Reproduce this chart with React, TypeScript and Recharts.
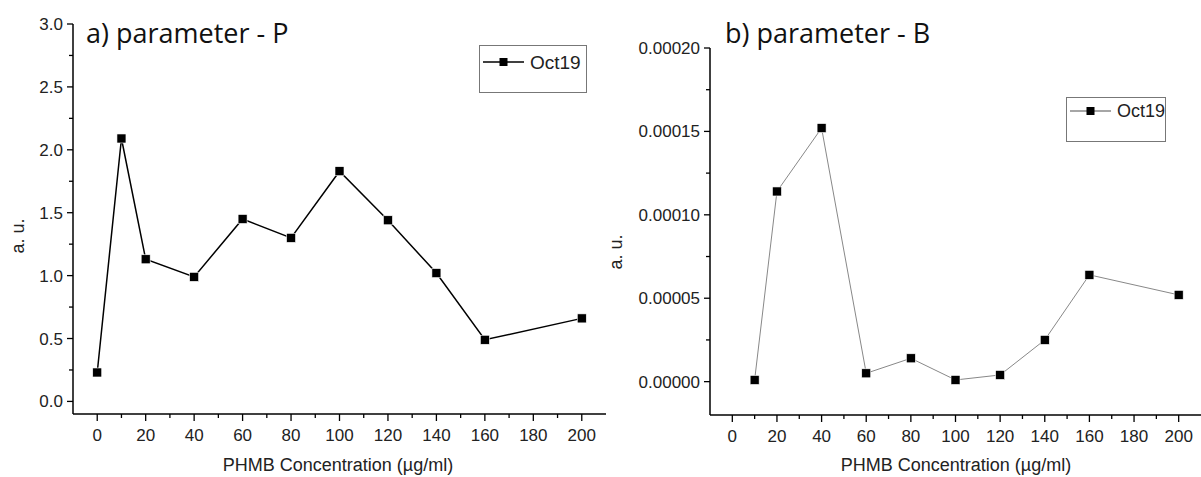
import React from 'react';
import { LineChart, Line, XAxis, YAxis, Legend } from 'recharts';

const concP = [0, 10, 20, 40, 60, 80, 100, 120, 140, 160, 200];
const valuesP = [0.23, 2.09, 1.13, 0.99, 1.45, 1.3, 1.83, 1.44, 1.02, 0.49, 0.66];

const concB = [10, 20, 40, 60, 80, 100, 120, 140, 160, 200];
const valuesB = [0.000001, 0.000114, 0.000152, 0.000005, 0.000014, 0.000001, 0.000004, 0.000025, 0.000064, 0.000052];

const seriesName = 'Oct19';

const xMajor = [0, 20, 40, 60, 80, 100, 120, 140, 160, 180, 200];
const xMinor = [10, 30, 50, 70, 90, 110, 130, 150, 170, 190];

const yMajorP = [0, 0.5, 1, 1.5, 2, 2.5, 3];
const yMinorP = [0.25, 0.75, 1.25, 1.75, 2.25, 2.75];

const yMajorB = [0, 0.00005, 0.0001, 0.00015, 0.0002];
const yMinorB = [0.000025, 0.000075, 0.000125, 0.000175];

const dataP = concP.map((c, i) => ({ conc: c, value: valuesP[i] }));
const dataB = concB.map((c, i) => ({ conc: c, value: valuesB[i] }));

const tickFont = '"Liberation Sans", Arial, sans-serif';
const titleFont = '"Open Sans", "Noto Sans", sans-serif';

const XTick = (props: any) => {
  const { x, y, payload } = props;
  const major = xMajor.includes(payload.value);
  return (
    <g>
      <line x1={x} x2={x} y1={y} y2={y + (major ? 7 : 4)} stroke="#000" strokeWidth={1.3} />
      {major && (
        <text x={x} y={y + 27} textAnchor="middle" fontSize={17} fill="#222" fontFamily={tickFont}>
          {payload.value}
        </text>
      )}
    </g>
  );
};

const makeYTick = (majors: number[], digits: number) => (props: any) => {
  const { x, y, payload } = props;
  const major = majors.some((m) => Math.abs(m - payload.value) < 1e-12);
  return (
    <g>
      <line x1={x} x2={x - (major ? 6 : 4)} y1={y} y2={y} stroke="#000" strokeWidth={1.3} />
      {major && (
        <text x={x - 10} y={y + 6} textAnchor="end" fontSize={17} fill="#222" fontFamily={tickFont}>
          {payload.value.toFixed(digits)}
        </text>
      )}
    </g>
  );
};

const YTickP = makeYTick(yMajorP, 1);
const YTickB = makeYTick(yMajorB, 5);

const SquareDot = (props: any) => {
  const { cx, cy, index } = props;
  if (cx == null || cy == null) return <g key={index} />;
  return <rect key={index} x={cx - 4.5} y={cy - 4.5} width={9} height={9} fill="#000" stroke="#fff" strokeWidth={0.6} />;
};

interface LegendBoxProps {
  color: string;
  width: number;
  height: number;
  lineY: number;
  fontSize: number;
}

const LegendBox = ({ color, width, height, lineY, fontSize }: LegendBoxProps) => (
  <div style={{ width, height, border: '1px solid #777', boxSizing: 'border-box', position: 'relative', background: '#fff' }}>
    <svg width={50} height={20} style={{ position: 'absolute', left: 3, top: lineY - 11 }}>
      <line x1={0} x2={41} y1={10} y2={10} stroke={color} strokeWidth={1.4} />
      <rect x={16.5} y={6} width={8} height={8} fill="#000" />
    </svg>
    <span
      style={{
        position: 'absolute',
        left: 50,
        top: lineY - 1,
        transform: 'translateY(-50%)',
        fontSize,
        lineHeight: 1,
        fontFamily: tickFont,
        color: '#222',
      }}
    >
      {seriesName}
    </span>
  </div>
);

const axisLine = { stroke: '#000', strokeWidth: 1.5 };

const Title = ({ text, left, top }: { text: string; left: number; top: number }) => (
  <div style={{ position: 'absolute', left, top, fontSize: 27, fontFamily: titleFont, color: '#111', whiteSpace: 'nowrap', lineHeight: 1 }}>
    {text}
  </div>
);

const AxisTitle = ({ text, left, top, rotate }: { text: string; left: number; top: number; rotate?: boolean }) => (
  <div
    style={{
      position: 'absolute',
      left,
      top,
      fontSize: 18,
      fontFamily: tickFont,
      color: '#222',
      whiteSpace: 'nowrap',
      lineHeight: 1,
      transform: rotate ? 'translate(-50%, -50%) rotate(-90deg)' : 'translate(-50%, -50%)',
    }}
  >
    {text}
  </div>
);

export default function App() {
  return (
    <div style={{ position: 'absolute', left: 0, top: 0, width: 1201, height: 477, background: '#fff', overflow: 'hidden' }}>
      <div style={{ position: 'absolute', left: 0, top: 0 }}>
        <LineChart width={610} height={477} data={dataP} margin={{ top: 24, right: 4, bottom: 0, left: 0 }}>
          <XAxis
            dataKey="conc"
            type="number"
            domain={[-10, 210]}
            ticks={[...xMajor, ...xMinor].sort((a, b) => a - b)}
            interval={0}
            height={63}
            tickSize={0}
            tickMargin={0}
            tickLine={false}
            axisLine={axisLine}
            tick={<XTick />}
          />
          <YAxis
            type="number"
            domain={[-0.1, 3]}
            ticks={[...yMajorP, ...yMinorP].sort((a, b) => a - b)}
            interval={0}
            width={73}
            tickSize={0}
            tickMargin={0}
            tickLine={false}
            axisLine={axisLine}
            tick={<YTickP />}
          />
          <Legend
            layout="vertical"
            align="center"
            verticalAlign="middle"
            wrapperStyle={{ left: 479, top: 45, width: 108, height: 48 }}
            content={() => <LegendBox color="#000" width={108} height={48} lineY={17} fontSize={19} />}
          />
          <Line
            type="linear"
            dataKey="value"
            name={seriesName}
            stroke="#000"
            strokeWidth={1.5}
            dot={(p: any) => <SquareDot key={p.index} {...p} />}
            activeDot={false}
            isAnimationActive={false}
          />
        </LineChart>
      </div>
      <div style={{ position: 'absolute', left: 600, top: 0 }}>
        <LineChart width={601} height={477} data={dataB} margin={{ top: 48, right: 0, bottom: 0, left: 0 }}>
          <XAxis
            dataKey="conc"
            type="number"
            domain={[-10, 210]}
            ticks={[...xMajor, ...xMinor].sort((a, b) => a - b)}
            interval={0}
            height={62}
            tickSize={0}
            tickMargin={0}
            tickLine={false}
            axisLine={axisLine}
            tick={<XTick />}
          />
          <YAxis
            type="number"
            domain={[-0.00002, 0.0002]}
            ticks={[...yMajorB, ...yMinorB].sort((a, b) => a - b)}
            interval={0}
            width={110}
            tickSize={0}
            tickMargin={0}
            tickLine={false}
            axisLine={axisLine}
            tick={<YTickB />}
          />
          <Legend
            layout="vertical"
            align="center"
            verticalAlign="middle"
            wrapperStyle={{ left: 466, top: 97, width: 100, height: 45 }}
            content={() => <LegendBox color="#888" width={100} height={45} lineY={14} fontSize={18} />}
          />
          <Line
            type="linear"
            dataKey="value"
            name={seriesName}
            stroke="#888"
            strokeWidth={1}
            dot={(p: any) => <SquareDot key={p.index} {...p} />}
            activeDot={false}
            isAnimationActive={false}
          />
        </LineChart>
      </div>
      <Title text="a) parameter - P" left={86} top={19} />
      <Title text="b) parameter - B" left={725} top={19} />
      <AxisTitle text="a. u." left={18} top={236} rotate />
      <AxisTitle text="a. u." left={616} top={252} rotate />
      <AxisTitle text="PHMB Concentration (µg/ml)" left={338} top={465} />
      <AxisTitle text="PHMB Concentration (µg/ml)" left={956} top={465} />
    </div>
  );
}
